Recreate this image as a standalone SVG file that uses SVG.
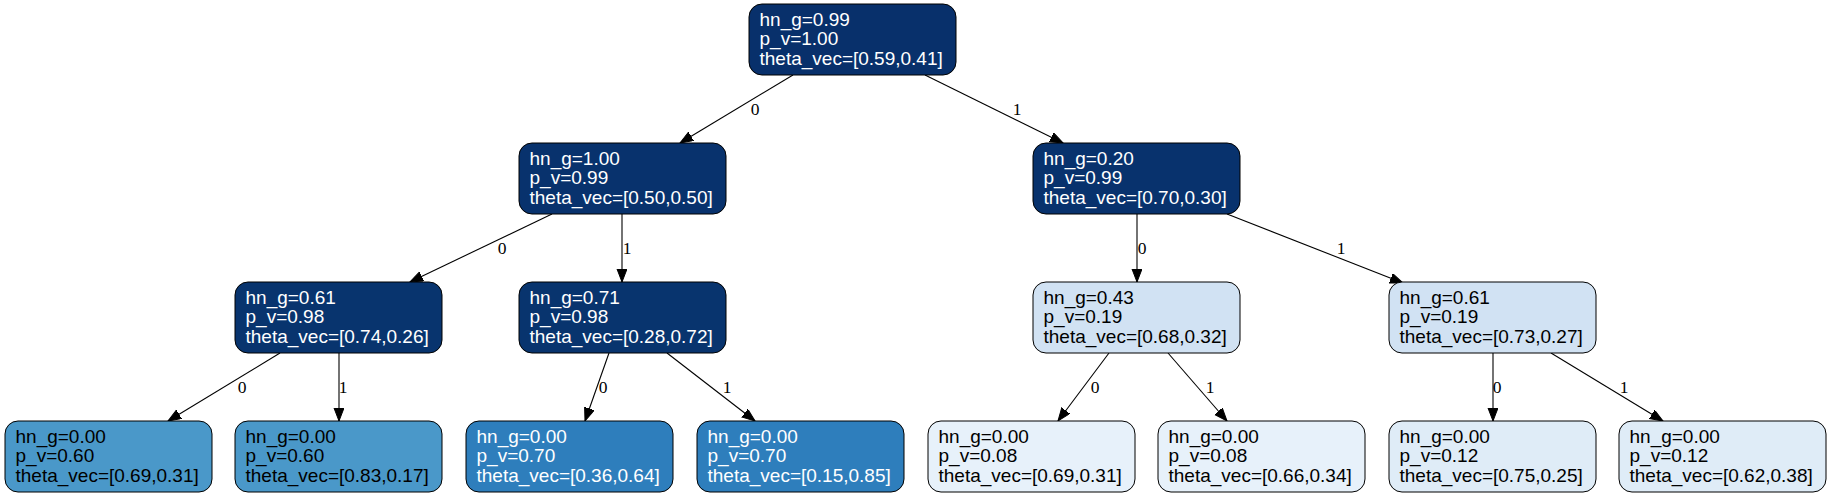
<svg xmlns="http://www.w3.org/2000/svg" width="1832" height="497" viewBox="0 0 1832 497">
<defs>
<style>
.n rect{stroke:#000;stroke-width:1}
.n text{font-family:"Liberation Sans",Arial,sans-serif;font-size:19px}
.w text{fill:#fff}
.k text{fill:#000}
.e line{stroke:#000;stroke-width:1.1}
.e text{font-family:"Liberation Serif","Times New Roman",serif;font-size:17.5px;fill:#000;text-anchor:middle}
</style>
<marker id="ah" markerUnits="userSpaceOnUse" markerWidth="14" markerHeight="11" refX="13" refY="5" orient="auto">
<path d="M0,0 L13,5 L0,10 z" fill="#000" stroke="#000" stroke-width="1"/>
</marker>
</defs>
<rect width="1832" height="497" fill="#fff"/>
<g id="connectors" class="e">
<line x1="793" y1="75" x2="680" y2="143" marker-end="url(#ah)"/>
<text x="755" y="115">0</text>
<line x1="925" y1="75" x2="1063" y2="143" marker-end="url(#ah)"/>
<text x="1017" y="115">1</text>
<line x1="552" y1="214" x2="410" y2="282" marker-end="url(#ah)"/>
<text x="502" y="254">0</text>
<line x1="622" y1="214" x2="622" y2="282" marker-end="url(#ah)"/>
<text x="627" y="254">1</text>
<line x1="1137" y1="214" x2="1137" y2="282" marker-end="url(#ah)"/>
<text x="1142" y="254">0</text>
<line x1="1227" y1="214" x2="1403" y2="283" marker-end="url(#ah)"/>
<text x="1341" y="254">1</text>
<line x1="280" y1="353" x2="168" y2="421" marker-end="url(#ah)"/>
<text x="242" y="393">0</text>
<line x1="339" y1="353" x2="339" y2="421" marker-end="url(#ah)"/>
<text x="343" y="393">1</text>
<line x1="609" y1="353" x2="585" y2="421" marker-end="url(#ah)"/>
<text x="603" y="393">0</text>
<line x1="667" y1="353" x2="755" y2="421" marker-end="url(#ah)"/>
<text x="727" y="393">1</text>
<line x1="1109" y1="353" x2="1058" y2="421" marker-end="url(#ah)"/>
<text x="1095" y="393">0</text>
<line x1="1168" y1="353" x2="1227" y2="421" marker-end="url(#ah)"/>
<text x="1210" y="393">1</text>
<line x1="1493" y1="353" x2="1493" y2="421" marker-end="url(#ah)"/>
<text x="1497" y="393">0</text>
<line x1="1551" y1="353" x2="1663" y2="421" marker-end="url(#ah)"/>
<text x="1624" y="393">1</text>
</g>
<g id="n0" class="n w"><rect x="749" y="4" width="207" height="71" rx="13" fill="#08306b"/><text x="759.5" y="25.5">hn_g=0.99</text><text x="759.5" y="45">p_v=1.00</text><text x="759.5" y="65">theta_vec=[0.59,0.41]</text></g>
<g id="n1" class="n w"><rect x="519" y="143" width="207" height="71" rx="13" fill="#08326d"/><text x="529.5" y="164.5">hn_g=1.00</text><text x="529.5" y="184">p_v=0.99</text><text x="529.5" y="204">theta_vec=[0.50,0.50]</text></g>
<g id="n2" class="n w"><rect x="1033" y="143" width="207" height="71" rx="13" fill="#08326d"/><text x="1043.5" y="164.5">hn_g=0.20</text><text x="1043.5" y="184">p_v=0.99</text><text x="1043.5" y="204">theta_vec=[0.70,0.30]</text></g>
<g id="n3" class="n w"><rect x="235" y="282" width="207" height="71" rx="13" fill="#08346e"/><text x="245.5" y="303.5">hn_g=0.61</text><text x="245.5" y="323">p_v=0.98</text><text x="245.5" y="343">theta_vec=[0.74,0.26]</text></g>
<g id="n4" class="n w"><rect x="519" y="282" width="207" height="71" rx="13" fill="#08346e"/><text x="529.5" y="303.5">hn_g=0.71</text><text x="529.5" y="323">p_v=0.98</text><text x="529.5" y="343">theta_vec=[0.28,0.72]</text></g>
<g id="n5" class="n k"><rect x="1033" y="282" width="207" height="71" rx="13" fill="#d1e2f3"/><text x="1043.5" y="303.5">hn_g=0.43</text><text x="1043.5" y="323">p_v=0.19</text><text x="1043.5" y="343">theta_vec=[0.68,0.32]</text></g>
<g id="n6" class="n k"><rect x="1389" y="282" width="207" height="71" rx="13" fill="#d1e2f3"/><text x="1399.5" y="303.5">hn_g=0.61</text><text x="1399.5" y="323">p_v=0.19</text><text x="1399.5" y="343">theta_vec=[0.73,0.27]</text></g>
<g id="n7" class="n k"><rect x="5" y="421" width="207" height="71" rx="13" fill="#4a98c9"/><text x="15.5" y="442.5">hn_g=0.00</text><text x="15.5" y="462">p_v=0.60</text><text x="15.5" y="482">theta_vec=[0.69,0.31]</text></g>
<g id="n8" class="n k"><rect x="235" y="421" width="207" height="71" rx="13" fill="#4a98c9"/><text x="245.5" y="442.5">hn_g=0.00</text><text x="245.5" y="462">p_v=0.60</text><text x="245.5" y="482">theta_vec=[0.83,0.17]</text></g>
<g id="n9" class="n w"><rect x="466" y="421" width="207" height="71" rx="13" fill="#2e7ebc"/><text x="476.5" y="442.5">hn_g=0.00</text><text x="476.5" y="462">p_v=0.70</text><text x="476.5" y="482">theta_vec=[0.36,0.64]</text></g>
<g id="n10" class="n w"><rect x="697" y="421" width="207" height="71" rx="13" fill="#2e7ebc"/><text x="707.5" y="442.5">hn_g=0.00</text><text x="707.5" y="462">p_v=0.70</text><text x="707.5" y="482">theta_vec=[0.15,0.85]</text></g>
<g id="n11" class="n k"><rect x="928" y="421" width="207" height="71" rx="13" fill="#e7f1fa"/><text x="938.5" y="442.5">hn_g=0.00</text><text x="938.5" y="462">p_v=0.08</text><text x="938.5" y="482">theta_vec=[0.69,0.31]</text></g>
<g id="n12" class="n k"><rect x="1158" y="421" width="207" height="71" rx="13" fill="#e7f1fa"/><text x="1168.5" y="442.5">hn_g=0.00</text><text x="1168.5" y="462">p_v=0.08</text><text x="1168.5" y="482">theta_vec=[0.66,0.34]</text></g>
<g id="n13" class="n k"><rect x="1389" y="421" width="207" height="71" rx="13" fill="#dfecf7"/><text x="1399.5" y="442.5">hn_g=0.00</text><text x="1399.5" y="462">p_v=0.12</text><text x="1399.5" y="482">theta_vec=[0.75,0.25]</text></g>
<g id="n14" class="n k"><rect x="1619" y="421" width="207" height="71" rx="13" fill="#dfecf7"/><text x="1629.5" y="442.5">hn_g=0.00</text><text x="1629.5" y="462">p_v=0.12</text><text x="1629.5" y="482">theta_vec=[0.62,0.38]</text></g>
</svg>
